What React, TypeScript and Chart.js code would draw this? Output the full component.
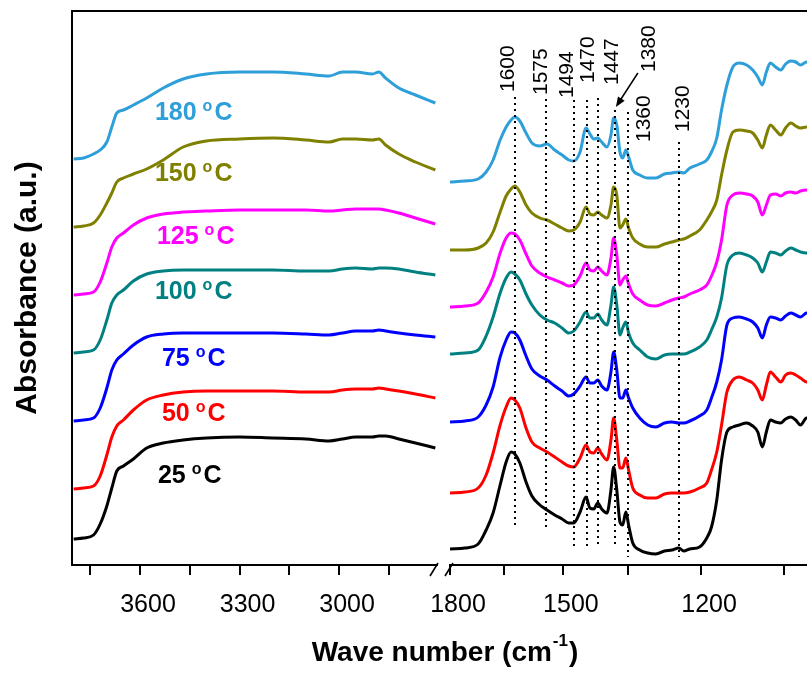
import React, { useEffect, useRef } from 'react';
import { Chart, registerables } from 'chart.js';

Chart.register(...registerables);

const FONT = '"Liberation Sans", Arial, Helvetica, sans-serif';
Chart.defaults.font.family = FONT;

const temperatureLabels = ['25', '50', '75', '100', '125', '150', '180'];
const seriesColors = ['#000000', '#ff0000', '#0000ff', '#008080', '#ff00ff', '#808000', '#2e9fd8'];

// ---- high wave-number segment (cm-1) ----
const waveHigh = [3800, 3770, 3740, 3720, 3700, 3685, 3670, 3650, 3620, 3580, 3530, 3470, 3400, 3300, 3200, 3100, 3030, 2990, 2950, 2900, 2880, 2860, 2820, 2770, 2710];
const high25 = [0.26, 0.27, 0.30, 0.41, 0.59, 0.77, 0.94, 0.99, 1.06, 1.17, 1.22, 1.25, 1.27, 1.28, 1.27, 1.26, 1.24, 1.26, 1.28, 1.28, 1.29, 1.29, 1.26, 1.22, 1.17];
const high50 = [0.76, 0.77, 0.79, 0.89, 1.10, 1.28, 1.39, 1.45, 1.55, 1.65, 1.70, 1.73, 1.74, 1.74, 1.74, 1.73, 1.73, 1.75, 1.76, 1.76, 1.77, 1.76, 1.74, 1.71, 1.67];
const high75 = [1.44, 1.45, 1.47, 1.57, 1.77, 1.95, 2.05, 2.11, 2.20, 2.28, 2.31, 2.32, 2.32, 2.32, 2.32, 2.31, 2.30, 2.32, 2.34, 2.34, 2.35, 2.34, 2.32, 2.30, 2.28];
const high100 = [2.12, 2.13, 2.15, 2.25, 2.45, 2.62, 2.70, 2.75, 2.84, 2.91, 2.94, 2.95, 2.95, 2.95, 2.95, 2.94, 2.94, 2.96, 2.97, 2.96, 2.97, 2.97, 2.96, 2.93, 2.90];
const high125 = [2.70, 2.71, 2.73, 2.83, 3.02, 3.18, 3.27, 3.32, 3.40, 3.47, 3.51, 3.53, 3.54, 3.55, 3.55, 3.55, 3.54, 3.55, 3.56, 3.56, 3.56, 3.55, 3.52, 3.47, 3.41];
const high150 = [3.38, 3.39, 3.42, 3.50, 3.62, 3.72, 3.83, 3.87, 3.91, 3.96, 4.05, 4.18, 4.24, 4.26, 4.27, 4.25, 4.23, 4.26, 4.26, 4.25, 4.26, 4.20, 4.11, 4.03, 3.95];
const high180 = [4.06, 4.07, 4.11, 4.15, 4.23, 4.38, 4.52, 4.55, 4.60, 4.67, 4.77, 4.86, 4.91, 4.93, 4.93, 4.91, 4.89, 4.93, 4.93, 4.91, 4.93, 4.87, 4.77, 4.70, 4.62];

// ---- low wave-number segment (cm-1) ----
const waveLow = [1800, 1757, 1720, 1698, 1679, 1660, 1644, 1631, 1621, 1608, 1592, 1577, 1557, 1539, 1520, 1502, 1486, 1474, 1459, 1445, 1436, 1427, 1418, 1409, 1397, 1388, 1382, 1375, 1368, 1362, 1355, 1349, 1340, 1325, 1308, 1291, 1273, 1258, 1244, 1234, 1222, 1203, 1189, 1180, 1170, 1161, 1151, 1140, 1128, 1115, 1104, 1095, 1087, 1080, 1073, 1064, 1055, 1047, 1038, 1030, 1022, 1012, 999];
const low25 = [0.16, 0.17, 0.21, 0.35, 0.52, 0.80, 1.03, 1.13, 1.11, 1.02, 0.83, 0.69, 0.60, 0.55, 0.50, 0.46, 0.42, 0.42, 0.53, 0.68, 0.57, 0.56, 0.62, 0.56, 0.52, 0.75, 0.98, 0.75, 0.43, 0.40, 0.53, 0.40, 0.22, 0.15, 0.12, 0.11, 0.14, 0.15, 0.17, 0.14, 0.16, 0.18, 0.27, 0.38, 0.65, 1.05, 1.33, 1.38, 1.40, 1.42, 1.39, 1.33, 1.18, 1.33, 1.45, 1.43, 1.42, 1.46, 1.48, 1.45, 1.40, 1.47, 1.47];
const low50 = [0.72, 0.73, 0.77, 0.90, 1.12, 1.40, 1.58, 1.67, 1.65, 1.57, 1.37, 1.23, 1.17, 1.13, 1.08, 1.03, 0.99, 0.98, 1.07, 1.20, 1.13, 1.12, 1.17, 1.11, 1.05, 1.25, 1.47, 1.25, 0.97, 0.97, 1.07, 0.95, 0.77, 0.70, 0.67, 0.67, 0.71, 0.72, 0.72, 0.72, 0.73, 0.77, 0.82, 0.95, 1.13, 1.40, 1.73, 1.85, 1.88, 1.85, 1.82, 1.75, 1.65, 1.80, 1.93, 1.88, 1.83, 1.90, 1.92, 1.90, 1.87, 1.83, 1.85];
const low75 = [1.43, 1.44, 1.48, 1.60, 1.78, 2.08, 2.25, 2.33, 2.32, 2.25, 2.09, 1.96, 1.89, 1.85, 1.79, 1.74, 1.69, 1.71, 1.79, 1.88, 1.82, 1.82, 1.85, 1.79, 1.75, 1.93, 2.13, 1.95, 1.67, 1.67, 1.75, 1.67, 1.57, 1.47, 1.40, 1.38, 1.42, 1.43, 1.42, 1.42, 1.44, 1.49, 1.55, 1.67, 1.83, 2.05, 2.40, 2.47, 2.48, 2.46, 2.43, 2.37, 2.27, 2.40, 2.48, 2.47, 2.45, 2.49, 2.52, 2.50, 2.48, 2.52, 2.51];
const low100 = [2.11, 2.12, 2.15, 2.29, 2.48, 2.72, 2.87, 2.93, 2.91, 2.85, 2.71, 2.60, 2.50, 2.45, 2.42, 2.37, 2.32, 2.34, 2.43, 2.53, 2.47, 2.47, 2.51, 2.45, 2.40, 2.60, 2.78, 2.60, 2.30, 2.37, 2.43, 2.32, 2.22, 2.15, 2.08, 2.06, 2.10, 2.11, 2.11, 2.11, 2.13, 2.18, 2.25, 2.35, 2.48, 2.67, 3.00, 3.10, 3.12, 3.10, 3.07, 3.02, 2.93, 3.03, 3.13, 3.12, 3.10, 3.14, 3.17, 3.15, 3.13, 3.12, 3.13];
const low125 = [2.58, 2.59, 2.62, 2.73, 2.88, 3.12, 3.27, 3.32, 3.31, 3.25, 3.11, 2.99, 2.92, 2.88, 2.85, 2.82, 2.79, 2.80, 2.89, 3.02, 2.95, 2.94, 2.98, 2.94, 2.90, 3.07, 3.27, 3.10, 2.80, 2.85, 2.89, 2.81, 2.71, 2.65, 2.60, 2.59, 2.62, 2.65, 2.67, 2.68, 2.71, 2.75, 2.80, 2.89, 3.03, 3.25, 3.60, 3.70, 3.72, 3.71, 3.69, 3.63, 3.50, 3.60, 3.70, 3.71, 3.69, 3.72, 3.73, 3.72, 3.74, 3.75, 3.75];
const low150 = [3.15, 3.15, 3.17, 3.22, 3.33, 3.53, 3.69, 3.76, 3.79, 3.73, 3.60, 3.52, 3.47, 3.45, 3.41, 3.37, 3.34, 3.35, 3.43, 3.58, 3.51, 3.50, 3.53, 3.50, 3.47, 3.60, 3.78, 3.70, 3.37, 3.40, 3.46, 3.37, 3.27, 3.21, 3.18, 3.18, 3.21, 3.23, 3.25, 3.26, 3.29, 3.35, 3.45, 3.53, 3.65, 3.90, 4.15, 4.33, 4.35, 4.34, 4.32, 4.25, 4.17, 4.30, 4.40, 4.35, 4.30, 4.37, 4.42, 4.39, 4.37, 4.38, 4.38];
const low180 = [3.83, 3.84, 3.86, 3.93, 4.05, 4.25, 4.38, 4.45, 4.48, 4.44, 4.32, 4.22, 4.19, 4.21, 4.15, 4.10, 4.05, 4.04, 4.13, 4.37, 4.31, 4.26, 4.27, 4.23, 4.18, 4.30, 4.47, 4.40, 4.13, 4.07, 4.15, 4.08, 3.95, 3.90, 3.87, 3.87, 3.91, 3.92, 3.93, 3.92, 3.97, 4.01, 4.05, 4.13, 4.27, 4.55, 4.80, 4.98, 5.02, 5.00, 4.95, 4.88, 4.80, 4.93, 5.02, 4.98, 4.95, 5.01, 5.04, 5.03, 5.00, 5.03, 5.03];

// ---- temperature label anchors (wave number, absorbance) ----
const tempLabelWave = [3546, 3534, 3534, 3555, 3549, 3555, 3555];
const tempLabelAbs = [0.91, 1.53, 2.08, 2.75, 3.30, 3.93, 4.54];

// ---- axis ticks ----
const highMajorTicks = [3600, 3300, 3000];
const highMinorTicks = [3750, 3450, 3150, 2850];
const lowMajorTicks = [1800, 1500, 1200];
const lowMinorTicks = [1650, 1350, 1050];

// ---- peak annotations ----
const peakLabels = ['1600', '1575', '1494', '1470', '1447', '1380', '1360', '1230'];
const peakLineWave = [1621, 1542, 1474, 1443, 1418, 1379, 1351, 1244];
const peakLineTop = [4.68, 4.66, 4.65, 4.65, 4.67, 4.55, 4.53, 4.23];
const peakLineBottom = [0.37, 0.35, 0.17, 0.17, 0.17, 0.18, 0.08, 0.08];
const peakLabelWave = [1639, 1554, 1490, 1439, 1386, 1304, 1316, 1236];
const peakLabelAbs = [4.73, 4.70, 4.67, 4.82, 4.80, 4.93, 4.23, 4.33];
const arrowStart = [1329, 4.92];
const arrowEnd = [1377, 4.58];

const Y_MIN = 0;
const Y_MAX = 5.54;

function makeDatasets(waves: number[], series: number[][]) {
  return series.map((vals, i) => ({
    label: temperatureLabels[i] + ' °C',
    data: waves.map((w, j) => ({ x: w, y: vals[j] })),
    borderColor: seriesColors[i],
    backgroundColor: seriesColors[i],
    borderWidth: 3,
    pointRadius: 0,
    fill: false,
    cubicInterpolationMode: 'monotone' as const,
    borderJoinStyle: 'round' as const,
  }));
}

const leftDecor = {
  id: 'leftDecor',
  afterDraw(chart: any) {
    const { ctx, chartArea, scales } = chart;
    const xs = scales.x;
    const ys = scales.y;
    ctx.save();
    // top frame line across both segments
    ctx.strokeStyle = '#000';
    ctx.lineWidth = 2;
    ctx.beginPath();
    ctx.moveTo(chartArea.left - 1, chartArea.top);
    ctx.lineTo(chart.width, chartArea.top);
    ctx.stroke();
    // axis break marks
    const bx = chartArea.right;
    const by = chartArea.bottom;
    ctx.lineWidth = 1.6;
    ctx.beginPath();
    ctx.moveTo(bx - 7, by + 11);
    ctx.lineTo(bx + 1, by - 2);
    ctx.moveTo(bx + 8, by + 11);
    ctx.lineTo(bx + 16, by - 2);
    ctx.stroke();
    // temperature labels
    for (let i = 0; i < temperatureLabels.length; i++) {
      const x = xs.getPixelForValue(tempLabelWave[i]);
      const yc = ys.getPixelForValue(tempLabelAbs[i]);
      const base = yc + 9;
      ctx.fillStyle = seriesColors[i];
      ctx.textAlign = 'left';
      ctx.textBaseline = 'alphabetic';
      ctx.font = `bold 25px ${FONT}`;
      const t = temperatureLabels[i] + ' ';
      ctx.fillText(t, x, base);
      let w = ctx.measureText(t).width;
      ctx.font = `bold 16px ${FONT}`;
      ctx.fillText('o', x + w - 1, base - 9);
      w += ctx.measureText('o').width + 1;
      ctx.font = `bold 25px ${FONT}`;
      ctx.fillText('C', x + w, base);
    }
    // x axis title spanning both segments
    ctx.fillStyle = '#000';
    ctx.font = `bold 28px ${FONT}`;
    const main = 'Wave number (cm';
    const close = ')';
    const wMain = ctx.measureText(main).width;
    const wClose = ctx.measureText(close).width;
    ctx.font = `bold 17px ${FONT}`;
    const sup = '-1';
    const wSup = ctx.measureText(sup).width;
    const total = wMain + wSup + wClose + 2;
    const cx = 445;
    const baseY = 661;
    let sx = cx - total / 2;
    ctx.font = `bold 28px ${FONT}`;
    ctx.textAlign = 'left';
    ctx.fillText(main, sx, baseY);
    sx += wMain + 1;
    ctx.font = `bold 17px ${FONT}`;
    ctx.fillText(sup, sx, baseY - 15);
    sx += wSup + 1;
    ctx.font = `bold 28px ${FONT}`;
    ctx.fillText(close, sx, baseY);
    ctx.restore();
  },
};

const rightDecor = {
  id: 'rightDecor',
  afterDraw(chart: any) {
    const { ctx, scales } = chart;
    const xs = scales.x;
    const ys = scales.y;
    ctx.save();
    // dotted peak lines
    ctx.strokeStyle = '#000';
    ctx.lineWidth = 2;
    ctx.setLineDash([2, 4]);
    for (let i = 0; i < peakLabels.length; i++) {
      const x = Math.round(xs.getPixelForValue(peakLineWave[i]));
      ctx.beginPath();
      ctx.moveTo(x, ys.getPixelForValue(peakLineTop[i]));
      ctx.lineTo(x, ys.getPixelForValue(peakLineBottom[i]));
      ctx.stroke();
    }
    ctx.setLineDash([]);
    // rotated peak labels
    ctx.fillStyle = '#000';
    ctx.font = `21px ${FONT}`;
    for (let i = 0; i < peakLabels.length; i++) {
      const x = xs.getPixelForValue(peakLabelWave[i]);
      const y = ys.getPixelForValue(peakLabelAbs[i]);
      ctx.save();
      ctx.translate(x, y);
      ctx.rotate(-Math.PI / 2);
      ctx.textAlign = 'left';
      ctx.textBaseline = 'middle';
      ctx.fillText(peakLabels[i], 0, 0);
      ctx.restore();
    }
    // arrow to the 1380 band
    const x1 = xs.getPixelForValue(arrowStart[0]);
    const y1 = ys.getPixelForValue(arrowStart[1]);
    const x2 = xs.getPixelForValue(arrowEnd[0]);
    const y2 = ys.getPixelForValue(arrowEnd[1]);
    const ang = Math.atan2(y2 - y1, x2 - x1);
    const hl = 10;
    const hw = 4;
    ctx.lineWidth = 1.5;
    ctx.beginPath();
    ctx.moveTo(x1, y1);
    ctx.lineTo(x2 - Math.cos(ang) * hl * 0.8, y2 - Math.sin(ang) * hl * 0.8);
    ctx.stroke();
    ctx.beginPath();
    ctx.moveTo(x2, y2);
    ctx.lineTo(x2 - Math.cos(ang) * hl - Math.sin(ang) * hw, y2 - Math.sin(ang) * hl + Math.cos(ang) * hw);
    ctx.lineTo(x2 - Math.cos(ang) * hl + Math.sin(ang) * hw, y2 - Math.sin(ang) * hl - Math.cos(ang) * hw);
    ctx.closePath();
    ctx.fill();
    ctx.restore();
  },
};

function xAxisCommon(major: number[], minor: number[]) {
  return {
    grid: {
      display: true,
      drawOnChartArea: false,
      drawTicks: true,
      tickLength: 10,
      color: '#000',
      lineWidth: 2,
    },
    border: { display: true, color: '#000', width: 2 },
    ticks: {
      autoSkip: false,
      maxRotation: 0,
      minRotation: 0,
      padding: 15,
      labelOffset: 8,
      color: '#000',
      font: { size: 25, family: FONT },
      callback: (v: any) => (major.includes(Number(v)) ? String(v) : ''),
    },
    afterBuildTicks: (scale: any) => {
      scale.ticks = [...major, ...minor].sort((a, b) => b - a).map((v) => ({ value: v }));
    },
    afterFit: (scale: any) => {
      scale.height = 113;
    },
  };
}

export default function App() {
  const leftRef = useRef<HTMLCanvasElement>(null);
  const rightRef = useRef<HTMLCanvasElement>(null);

  useEffect(() => {
    const highSeries = [high25, high50, high75, high100, high125, high150, high180];
    const lowSeries = [low25, low50, low75, low100, low125, low150, low180];

    const left = new Chart(leftRef.current as HTMLCanvasElement, {
      type: 'line',
      data: { datasets: makeDatasets(waveHigh, highSeries) as any },
      options: {
        responsive: false,
        animation: false,
        events: [],
        layout: { padding: { top: 11, right: 370, left: 0, bottom: 0 } },
        plugins: { legend: { display: false }, tooltip: { enabled: false } },
        scales: {
          x: {
            type: 'linear',
            reverse: true,
            min: 2705,
            max: 3805,
            ...(xAxisCommon(highMajorTicks, highMinorTicks) as any),
          },
          y: {
            type: 'linear',
            min: Y_MIN,
            max: Y_MAX,
            grid: { display: false },
            ticks: { display: false },
            border: { display: true, color: '#000', width: 2 },
            title: {
              display: true,
              text: 'Absorbance (a.u.)',
              color: '#000',
              font: { size: 30, weight: 'bold', family: FONT },
              padding: { top: 10, bottom: 0 },
            },
            afterFit: (scale: any) => {
              scale.width = 72;
            },
          },
        },
      },
      plugins: [leftDecor],
    });

    const right = new Chart(rightRef.current as HTMLCanvasElement, {
      type: 'line',
      data: { datasets: makeDatasets(waveLow, lowSeries) as any },
      options: {
        responsive: false,
        animation: false,
        events: [],
        layout: { padding: { top: 11, right: 16, left: 70, bottom: 0 } },
        plugins: { legend: { display: false }, tooltip: { enabled: false } },
        scales: {
          x: {
            type: 'logarithmic',
            reverse: true,
            min: 1000,
            max: 1800,
            ...(xAxisCommon(lowMajorTicks, lowMinorTicks) as any),
          },
          y: {
            type: 'linear',
            display: false,
            min: Y_MIN,
            max: Y_MAX,
          },
        },
      },
      plugins: [rightDecor],
    });

    return () => {
      left.destroy();
      right.destroy();
    };
  }, []);

  return (
    <div
      style={{
        position: 'fixed',
        left: 0,
        top: 0,
        width: 807,
        height: 678,
        overflow: 'hidden',
        background: '#fff',
      }}
    >
      <canvas ref={leftRef} width={807} height={678} style={{ position: 'absolute', left: 0, top: 0 }} />
      <canvas ref={rightRef} width={450} height={678} style={{ position: 'absolute', left: 380, top: 0 }} />
    </div>
  );
}
